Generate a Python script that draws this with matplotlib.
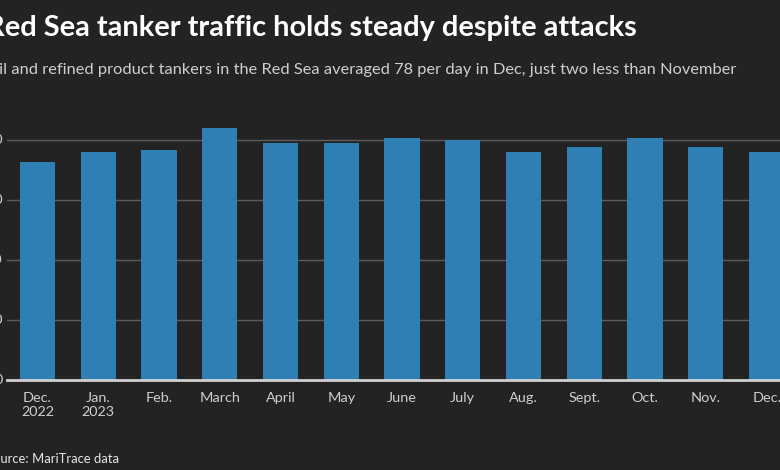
import matplotlib
matplotlib.use("Agg")
import matplotlib.pyplot as plt

# tankers per day in the Red Sea, monthly average
months = ["Dec.\n2022", "Jan.\n2023", "Feb.", "March", "April", "May", "June",
          "July", "Aug.", "Sept.", "Oct.", "Nov.", "Dec."]
tankers = [72.6, 75.7, 76.6, 83.7, 78.8, 78.8, 80.6, 79.8, 75.7, 77.6, 80.6, 77.6, 75.7]
yticks = [0, 20, 40, 60, 80]

bg = "#232323"
bar_color = "#2f7fb5"

plt.rcParams['font.family'] = ['Lato', 'DejaVu Sans']

W, H = 780, 470
fig = plt.figure(figsize=(W / 100, H / 100), dpi=100, facecolor=bg)

# axes run past the left/right edge, like the cropped original
left, right = 7, 797
bottom, top = 379.5, 109.5
ax = fig.add_axes([left / W, 1 - bottom / H, (right - left) / W, (bottom - top) / H])
ax.set_facecolor(bg)

x = range(len(months))
ax.bar(x, tankers, width=0.58, color=bar_color, zorder=2)

ax.set_xlim(-0.5, len(months) - 0.5)
ax.set_ylim(0, 90)
ax.set_yticks(yticks)
ax.set_yticklabels([str(v) for v in yticks])
ax.set_xticks(list(x))
ax.set_xticklabels(months)

ax.grid(axis="y", color="#5c5c5c", linewidth=1, zorder=1)
for s in ["top", "right", "left"]:
    ax.spines[s].set_visible(False)
ax.spines["bottom"].set_color("#d0d0d0")
ax.spines["bottom"].set_linewidth(2)
ax.spines["bottom"].set_zorder(3)

ax.tick_params(axis="x", length=0, pad=9, labelsize=10.4, labelcolor="#cfcfcf")
ax.tick_params(axis="y", length=0, pad=3, labelsize=10.4, labelcolor="#cfcfcf")

tx = -14 / W
fig.text(tx, 1 - 28 / H, "Red Sea tanker traffic holds steady despite attacks",
         color="white", fontsize=20.9, fontweight="bold", va="center", ha="left")
fig.text(tx, 1 - 70 / H,
         "Oil and refined product tankers in the Red Sea averaged 78 per day in Dec, just two less than November",
         color="#cfcfcf", fontsize=11.8, va="center", ha="left")
fig.text(tx, 1 - 459 / H, "Source: MariTrace data", color="#e6e6e6",
         fontsize=9.4, va="center", ha="left")

fig.savefig("out.png", dpi=100, facecolor=bg)
